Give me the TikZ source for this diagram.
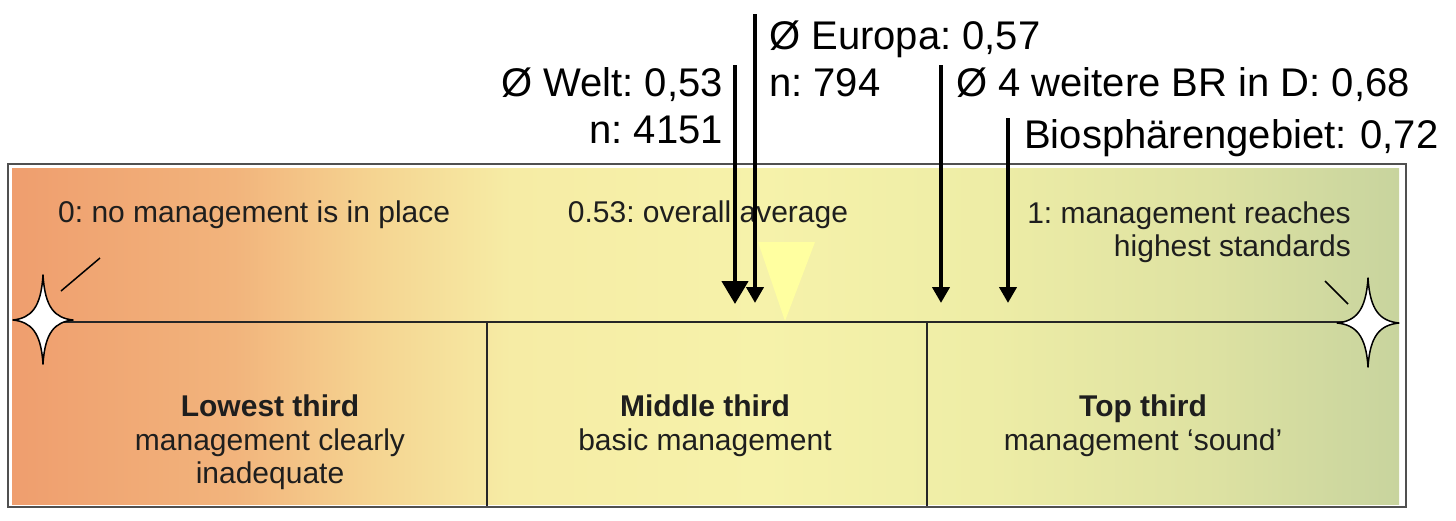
\documentclass[tikz,border=0pt]{standalone}
\usepackage{fontspec}
\setmainfont{Liberation Sans}
\usetikzlibrary{arrows.meta}
\definecolor{g0}{RGB}{239,158,110}
\definecolor{g1}{RGB}{242,180,124}
\definecolor{g2}{RGB}{245,212,145}
\definecolor{g3}{RGB}{246,236,165}
\definecolor{g4}{RGB}{246,242,170}
\definecolor{g5}{RGB}{238,237,166}
\definecolor{g6}{RGB}{222,226,162}
\definecolor{g7}{RGB}{200,212,158}
\definecolor{framec}{RGB}{80,80,80}
\definecolor{txt}{RGB}{30,30,30}
\definecolor{tri}{RGB}{255,255,160}
\pgfdeclarehorizontalshading{mettscale}{100bp}{color(0bp)=(g0); color(25bp)=(g0); color(33bp)=(g1); color(38bp)=(g2); color(43bp)=(g3); color(52bp)=(g4); color(60bp)=(g5); color(68bp)=(g6); color(75bp)=(g7); color(100bp)=(g7)}
\tikzset{
  lowtxt/.style={inner sep=0pt, text=txt, font=\fontsize{30}{33}\selectfont\frenchspacing},
  lowbold/.style={lowtxt, font=\fontsize{30}{33}\selectfont\bfseries\frenchspacing},
  toptxt/.style={inner sep=0pt, text=black, font=\fontsize{40}{48}\selectfont\frenchspacing},
  arr/.style={line width=4.5pt, black},
  bigtip/.style={-{Triangle[width=26pt,length=23pt]}},
  smalltip/.style={-{Triangle[width=17pt,length=16pt]}},
  divline/.style={line width=2pt, black!85},
  spark/.pic={\draw[fill=white, line width=1.5pt, line join=round] (0,-45) .. controls (2,-12) and (12,-2) .. (30,0) .. controls (12,2) and (2,12) .. (0,44) .. controls (-2,12) and (-12,2) .. (-30,0) .. controls (-12,-2) and (-2,-12) .. cycle;}
}
\begin{document}
\begin{tikzpicture}[x=1pt,y=-1pt]
\useasboundingbox (0,0) rectangle (1456,520);
\fill[white] (0,0) rectangle (1456,520);
\draw[framec, line width=2pt] (8,164) rectangle (1406,507);
\shade[shading=mettscale] (12,168) rectangle (1399,504);
% faint triangle
\fill[tri] (758,242) -- (815,242) -- (785,321) -- cycle;
% axis and dividers
\coordinate (axL) at (43,322);
\coordinate (axR) at (1368,322);
\coordinate (d1t) at (487,322);
\coordinate (d1b) at (487,506);
\coordinate (d2t) at (927,322);
\coordinate (d2b) at (927,506);
\draw[divline] (axL) -- (axR);
\draw[divline] (d1t) -- (d1b);
\draw[divline] (d2t) -- (d2b);
% tick marks
\coordinate (tl1) at (61,291);
\coordinate (tl2) at (100,258);
\coordinate (tr1) at (1325,281);
\coordinate (tr2) at (1348,304);
\draw[line width=1.5pt] (tl1) -- (tl2);
\draw[line width=1.5pt] (tr1) -- (tr2);
% stars
\pic (starL) at (43,320) {spark};
\pic[xscale=1.03] (starR) at (1368,323) {spark};
% lower texts
\node[lowtxt, anchor=base west] (t0) at (58,222) {0: no management is in place};
\node[lowtxt, anchor=base] (tavg) at (708,222) {0.53: overall average};
\node[lowtxt, anchor=base east] (t1a) at (1351,223) {1: management reaches};
\node[lowtxt, anchor=base east] (t1b) at (1351,256) {highest standards};
\node[lowbold, anchor=base] (lowA) at (270,416) {Lowest third};
\node[lowtxt, anchor=base] (lowB) at (270,450) {management clearly};
\node[lowtxt, anchor=base] (lowC) at (270,483) {inadequate};
\node[lowbold, anchor=base] (midA) at (705,416) {Middle third};
\node[lowtxt, anchor=base] (midB) at (705,450) {basic management};
\node[lowbold, anchor=base] (topA) at (1143,416) {Top third};
\node[lowtxt, anchor=base] (topB) at (1143,450) {management ‘sound’};
% top labels
\node[toptxt, anchor=base east] (welt) at (723,96) {Ø Welt: 0,53};
\node[toptxt, anchor=base east] (weltn) at (723,143) {n: 4151};
\node[toptxt, anchor=base west] (eur) at (769,49) {Ø Europa: 0,57};
\node[toptxt, anchor=base west] (eurn) at (769,96) {n: 794};
\node[toptxt, anchor=base west] (br4) at (956,96) {Ø 4 weitere BR in D: 0,68};
\node[toptxt, anchor=base west] (bio) at (1024,148) {Biosphärengebiet:\hspace{14pt}0,72};
% arrows
\coordinate (aW1) at (735,65);
\coordinate (aW2) at (735,304);
\coordinate (aE1) at (755,14);
\coordinate (aE2) at (755,303);
\coordinate (aB1) at (941,65);
\coordinate (aB2) at (941,303);
\coordinate (aS1) at (1008,118);
\coordinate (aS2) at (1008,303);
\draw[arr, bigtip] (aW1) -- (aW2);
\draw[arr, smalltip] (aE1) -- (aE2);
\draw[arr, smalltip] (aB1) -- (aB2);
\draw[arr, smalltip] (aS1) -- (aS2);
\end{tikzpicture}
\end{document}
